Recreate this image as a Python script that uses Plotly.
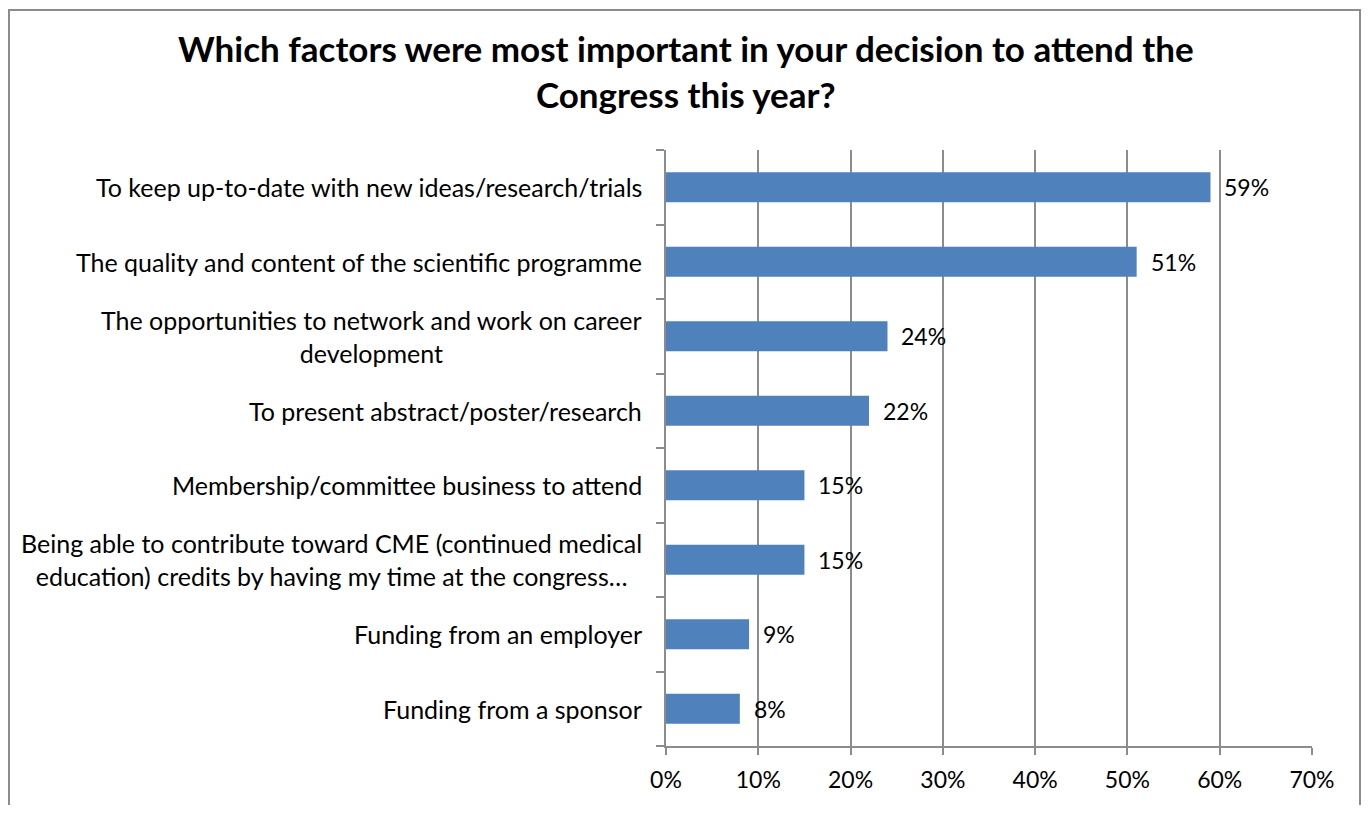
import plotly.graph_objects as go

# survey answers, top to bottom
factors = [
    "To keep up-to-date with new ideas/research/trials",
    "The quality and content of the scientific programme",
    "The opportunities to network and work on career<br>development",
    "To present abstract/poster/research",
    "Membership/committee business to attend",
    "Being able to contribute toward CME (continued medical<br>education) credits by having my time at the congress…",
    "Funding from an employer",
    "Funding from a sponsor",
]
shares = [0.59, 0.51, 0.24, 0.22, 0.15, 0.15, 0.09, 0.08]
x_ticks = [0, 0.1, 0.2, 0.3, 0.4, 0.5, 0.6, 0.7]

FONT = "Lato"
GRID = "#8c8c8c"
positions = list(range(len(factors)))

fig = go.Figure()
fig.add_trace(go.Bar(
    x=shares,
    y=positions,
    orientation="h",
    width=0.4,
    marker=dict(color="#4F81BD", line=dict(width=0)),
    hoverinfo="skip",
))

# value labels a little right of each bar
for pos, v in zip(positions, shares):
    fig.add_annotation(
        x=v, xref="x", xanchor="left", xshift=12,
        y=pos, yref="y", yanchor="middle",
        text=f"{v:.0%}", showarrow=False,
        font=dict(family=FONT, size=23, color="#000000"),
    )

# category labels, centred lines, right-aligned block
for pos, label in zip(positions, factors):
    fig.add_annotation(
        x=-22 / 646, xref="paper", xanchor="right",
        y=pos, yref="y", yanchor="middle",
        text=label, showarrow=False, align="center",
        font=dict(family=FONT, size=25, color="#000000"),
    )

# title
fig.add_annotation(
    x=20 / 646, xref="paper", xanchor="center",
    y=(742 - 62.5) / 600, yref="paper", yanchor="middle",
    text="<b>Which factors were most important in your decision to attend the<br>Congress this year?</b>",
    showarrow=False, align="center",
    font=dict(family=FONT, size=35, color="#000000"),
)

# outer chart border
fig.add_shape(
    type="rect", xref="paper", yref="paper",
    x0=-657 / 646, x1=694 / 646, y0=-0.2, y1=741 / 600,
    line=dict(color=GRID, width=2), fillcolor="rgba(0,0,0,0)", layer="below",
)

fig.update_layout(
    width=1353, height=797,
    margin=dict(l=658, r=49, t=142, b=55),
    paper_bgcolor="white", plot_bgcolor="white",
    showlegend=False,
    xaxis=dict(
        range=[0, 0.7], tickvals=x_ticks, tickformat=".0%",
        showgrid=True, gridcolor=GRID, gridwidth=1.5,
        showline=True, linecolor=GRID, linewidth=1.5,
        ticks="outside", ticklen=7, tickcolor=GRID, tickwidth=1.5,
        ticklabelstandoff=6,
        tickfont=dict(family=FONT, size=23, color="#000000"),
        zeroline=False, fixedrange=True,
    ),
    yaxis=dict(
        range=[len(factors) - 0.5, -0.5],
        tickvals=[p - 0.5 for p in positions] + [len(factors) - 0.5],
        showticklabels=False, showgrid=False,
        showline=True, linecolor=GRID, linewidth=1.5,
        ticks="outside", ticklen=8, tickcolor=GRID, tickwidth=1.5,
        zeroline=False, fixedrange=True,
    ),
)

fig.write_html("out.html")
